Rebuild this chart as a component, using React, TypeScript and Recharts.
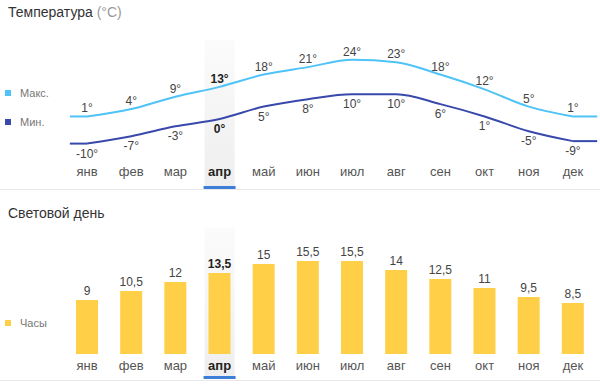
import { LineChart, Line, BarChart, Bar, XAxis, YAxis, LabelList, ReferenceArea, ReferenceLine } from 'recharts'

const months = ['янв', 'фев', 'мар', 'апр', 'май', 'июн', 'июл', 'авг', 'сен', 'окт', 'ноя', 'дек']
const maxTemp = [1, 4, 9, 13, 18, 21, 24, 23, 18, 12, 5, 1]
const minTemp = [-10, -7, -3, 0, 5, 8, 10, 10, 6, 1, -5, -9]
const dayHours = [9, 10.5, 12, 13.5, 15, 15.5, 15.5, 14, 12.5, 11, 9.5, 8.5]
const currentMonth = 3

const tempData = months.map((m, i) => ({ i, month: m, max: maxTemp[i], min: minTemp[i] }))
const lightData = months.map((m, i) => ({ i, month: m, hours: dayHours[i] }))
const ticks = months.map((_, i) => i)

const MAX_COLOR = '#4fc3f7'
const MIN_COLOR = '#3949ab'
const BAR_COLOR = '#ffcf48'
const FONT = '"Liberation Sans", Arial, sans-serif'

function MonthTick({ x, y, payload, labelDy = -12 }: any) {
  const active = payload.value === currentMonth
  return (
    <g>
      <text
        x={x}
        y={y + labelDy}
        textAnchor="middle"
        fontSize={13}
        fontFamily={FONT}
        fontWeight={active ? 700 : 400}
        fill={active ? '#222' : '#555'}
      >
        {months[payload.value]}
      </text>
      {active && <rect x={x - 16} y={y - 2} width={32} height={3} fill="#3d7fd8" />}
    </g>
  )
}

const tempLabel = (below: boolean) => (props: any) => {
  const { x, y, value, index } = props
  return (
    <text
      x={x}
      y={below ? y + 14 : y - 4}
      textAnchor="middle"
      fontSize={12}
      fontFamily={FONT}
      fontWeight={index === currentMonth ? 700 : 400}
      fill={index === currentMonth ? '#222' : '#444'}
    >
      {value}°
    </text>
  )
}

const hoursLabel = (props: any) => {
  const { x, y, width, value, index } = props
  return (
    <text
      x={x + width / 2}
      y={y - 5}
      textAnchor="middle"
      fontSize={12}
      fontFamily={FONT}
      fontWeight={index === currentMonth ? 700 : 400}
      fill={index === currentMonth ? '#222' : '#444'}
    >
      {String(value).replace('.', ',')}
    </text>
  )
}

function LegendItem({ top, color, text }: { top: number; color: string; text: string }) {
  return (
    <div style={{ position: 'absolute', left: 5, top: top - 7, height: 14, display: 'flex', alignItems: 'center' }}>
      <div style={{ width: 6, height: 6, background: color, marginRight: 9 }} />
      <span style={{ fontSize: 11, color: '#777' }}>{text}</span>
    </div>
  )
}

function Highlight({ id }: { id: string }) {
  return (
    <defs>
      <linearGradient id={id} x1="0" y1="0" x2="0" y2="1">
        <stop offset="0%" stopColor="#fbfbfb" />
        <stop offset="100%" stopColor="#eeeeee" />
      </linearGradient>
    </defs>
  )
}

export default function App() {
  return (
    <div style={{ position: 'absolute', left: 0, top: 0, width: 600, height: 386, background: '#fff', fontFamily: FONT, overflow: 'hidden' }}>
      <div style={{ position: 'absolute', left: 8, top: 4, fontSize: 14, color: '#333' }}>
        Температура <span style={{ color: '#999' }}>(°C)</span>
      </div>
      <LegendItem top={93} color={MAX_COLOR} text="Макс." />
      <LegendItem top={122} color={MIN_COLOR} text="Мин." />

      <div style={{ position: 'absolute', left: 0, top: 0 }}>
        <LineChart width={600} height={190} data={tempData} margin={{ top: 40, right: 5, left: 65, bottom: 0 }}>
          <Highlight id="aprGradTop" />
          <XAxis
            dataKey="i"
            type="number"
            domain={[-0.5, 11.5]}
            ticks={ticks}
            height={2}
            tickSize={0}
            tickMargin={0}
            axisLine={false}
            tickLine={false}
            tick={<MonthTick labelDy={-12} />}
            interval={0}
          />
          <YAxis hide domain={[-28, 32]} />
          <ReferenceArea x1={currentMonth - 0.34} x2={currentMonth + 0.34} fill="url(#aprGradTop)" fillOpacity={1} stroke="none" />
          <ReferenceLine segment={[{ x: -0.39, y: maxTemp[0] }, { x: 0, y: maxTemp[0] }]} stroke={MAX_COLOR} strokeWidth={2} ifOverflow="visible" />
          <ReferenceLine segment={[{ x: 11, y: maxTemp[11] }, { x: 11.55, y: maxTemp[11] }]} stroke={MAX_COLOR} strokeWidth={2} ifOverflow="visible" />
          <ReferenceLine segment={[{ x: -0.39, y: minTemp[0] }, { x: 0, y: minTemp[0] }]} stroke={MIN_COLOR} strokeWidth={2} ifOverflow="visible" />
          <ReferenceLine segment={[{ x: 11, y: minTemp[11] }, { x: 11.55, y: minTemp[11] }]} stroke={MIN_COLOR} strokeWidth={2} ifOverflow="visible" />
          <Line type="monotone" dataKey="max" stroke={MAX_COLOR} strokeWidth={2} dot={false} isAnimationActive={false}>
            <LabelList dataKey="max" content={tempLabel(false)} />
          </Line>
          <Line type="monotone" dataKey="min" stroke={MIN_COLOR} strokeWidth={2} dot={false} isAnimationActive={false}>
            <LabelList dataKey="min" content={tempLabel(true)} />
          </Line>
        </LineChart>
      </div>

      <div style={{ position: 'absolute', left: 0, top: 189, width: 600, height: 1, background: '#e8e8e8' }} />

      <div style={{ position: 'absolute', left: 8, top: 205, fontSize: 14, color: '#333' }}>Световой день</div>
      <LegendItem top={323} color={BAR_COLOR} text="Часы" />

      <div style={{ position: 'absolute', left: 0, top: 190 }}>
        <BarChart width={600} height={190} data={lightData} margin={{ top: 38, right: 5, left: 65, bottom: 0 }}>
          <Highlight id="aprGradBottom" />
          <XAxis
            dataKey="i"
            type="number"
            domain={[-0.5, 11.5]}
            ticks={ticks}
            height={2}
            tickSize={0}
            tickMargin={0}
            axisLine={false}
            tickLine={false}
            tick={<MonthTick labelDy={-8} />}
            interval={0}
          />
          <YAxis hide domain={[-4, 21]} />
          <ReferenceArea x1={currentMonth - 0.34} x2={currentMonth + 0.34} fill="url(#aprGradBottom)" fillOpacity={1} stroke="none" />
          <Bar dataKey="hours" fill={BAR_COLOR} barSize={22} isAnimationActive={false}>
            <LabelList dataKey="hours" content={hoursLabel} />
          </Bar>
        </BarChart>
      </div>

      <div style={{ position: 'absolute', left: 0, top: 380, width: 600, height: 1, background: '#e8e8e8' }} />
    </div>
  )
}
